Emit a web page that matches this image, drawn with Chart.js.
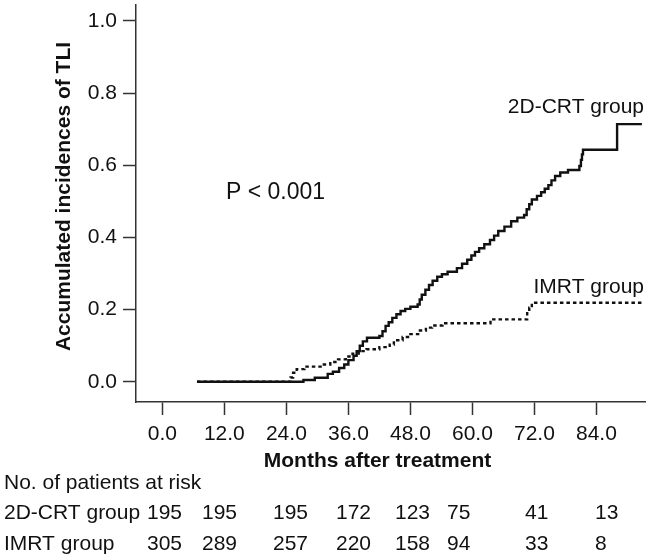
<!DOCTYPE html>
<html>
<head>
<meta charset="utf-8">
<script src="https://cdn.jsdelivr.net/npm/chart.js@4.4.1/dist/chart.umd.min.js"></script>
<style>
  html, body { margin: 0; padding: 0; background: #fff; }
  canvas { display: block; }
</style>
</head>
<body>
<canvas id="tli" width="652" height="557"></canvas>
<script>
// ── Data ─────────────────────────────────────────────────────────────────────

const X_TICKS = [0, 12, 24, 36, 48, 60, 72, 84];
const Y_TICKS = [0, 0.2, 0.4, 0.6, 0.8, 1.0];

// 2D-CRT group: event month / cumulative incidence after it
const CRT_MONTHS = [
    6.7, 27.3, 29.5, 32.0, 33.0, 34.2, 35.2, 36.0, 37.0, 37.6, 38.2, 38.8, 39.6,
    42.0, 42.6, 43.2, 43.8, 44.5, 45.3, 46.1, 47.0, 48.0, 49.4, 49.8, 50.2, 50.9,
    51.6, 52.3, 53.2, 54.1, 55.2, 57.0, 58.0, 59.0, 59.8, 60.5, 61.3, 62.3, 63.4,
    64.2, 65.0, 66.2, 67.5, 68.7, 70.0, 70.5, 71.0, 71.5, 72.5, 73.3, 74.0, 74.7,
    75.3, 76.0, 77.0, 78.5, 80.7, 81.0, 81.2, 81.4, 88.0, 92.8,
];
const CRT_INCIDENCE = [
    0, 0.005, 0.011, 0.022, 0.028, 0.038, 0.048, 0.060, 0.072, 0.085, 0.100, 0.112, 0.122,
    0.127, 0.140, 0.155, 0.165, 0.177, 0.187, 0.196, 0.202, 0.208, 0.214, 0.228, 0.241, 0.255,
    0.268, 0.280, 0.291, 0.298, 0.305, 0.315, 0.327, 0.338, 0.350, 0.360, 0.370, 0.381, 0.393,
    0.405, 0.418, 0.430, 0.445, 0.455, 0.462, 0.478, 0.492, 0.505, 0.515, 0.525, 0.535, 0.545,
    0.558, 0.570, 0.580, 0.587, 0.598, 0.615, 0.630, 0.643, 0.714, 0.714,
];

// IMRT group
const IMRT_MONTHS = [
    6.7, 24.8, 25.3, 26.0, 27.5, 31.0, 32.5, 34.0, 35.5, 36.8, 38.0, 39.5, 42.0,
    44.0, 44.8, 46.5, 48.0, 49.5, 51.0, 52.2, 54.2, 63.5, 70.6, 71.0, 71.5, 92.8,
];
const IMRT_INCIDENCE = [
    0, 0.012, 0.025, 0.035, 0.042, 0.048, 0.055, 0.062, 0.070, 0.078, 0.085, 0.090, 0.096,
    0.103, 0.115, 0.124, 0.132, 0.142, 0.150, 0.156, 0.162, 0.173, 0.190, 0.205, 0.219, 0.219,
];

// patients at risk under the axis
const AT_RISK_CRT = [195, 195, 195, 172, 123, 75, 41, 13];
const AT_RISK_IMRT = [305, 289, 257, 220, 158, 94, 33, 8];

// ── Layout ───────────────────────────────────────────────────────────────────

const FONT = '"Liberation Sans", Arial, sans-serif';
const INK = "#111";
const AT_RISK_COL_X = [147, 202, 273, 336, 395, 447, 525, 595];

const toPoints = (xs, ys) => xs.map((x, i) => ({ x, y: ys[i] }));

const annotations = {
    id: "annotations",
    afterDraw(chart) {
        const ctx = chart.ctx;
        ctx.save();
        ctx.fillStyle = INK;
        ctx.textBaseline = "alphabetic";

        // axis titles
        ctx.font = `bold 21px ${FONT}`;
        ctx.textAlign = "center";
        ctx.fillText("Months after treatment", 377.5, 467);
        ctx.save();
        ctx.translate(70, 196.5);
        ctx.rotate(-Math.PI / 2);
        ctx.fillText("Accumulated incidences of TLI", 0, 0);
        ctx.restore();

        // in-plot labels
        ctx.font = `23px ${FONT}`;
        ctx.textAlign = "left";
        ctx.fillText("P < 0.001", 226, 199);
        ctx.font = `21px ${FONT}`;
        ctx.textAlign = "right";
        ctx.fillText("2D-CRT group", 644, 113);
        ctx.fillText("IMRT group", 644, 293);

        // number at risk table
        ctx.textAlign = "left";
        ctx.fillText("No. of patients at risk", 4, 489);
        ctx.fillText("2D-CRT group", 4, 519);
        ctx.fillText("IMRT group", 4, 550);
        AT_RISK_CRT.forEach((n, i) => ctx.fillText(String(n), AT_RISK_COL_X[i], 519));
        AT_RISK_IMRT.forEach((n, i) => ctx.fillText(String(n), AT_RISK_COL_X[i], 550));
        ctx.restore();
    },
};

const axisGrid = {
    drawOnChartArea: false,
    drawTicks: true,
    tickLength: 13,
    tickWidth: 1.5,
    tickColor: "#333",
};

new Chart(document.getElementById("tli"), {
    type: "line",
    data: {
        datasets: [
            {
                label: "2D-CRT group",
                data: toPoints(CRT_MONTHS, CRT_INCIDENCE),
                borderColor: INK,
                borderWidth: 2.4,
                stepped: "before",
                pointRadius: 0,
                fill: false,
            },
            {
                label: "IMRT group",
                data: toPoints(IMRT_MONTHS, IMRT_INCIDENCE),
                borderColor: INK,
                borderWidth: 2.4,
                borderDash: [3.5, 3],
                stepped: "before",
                pointRadius: 0,
                fill: false,
            },
        ],
    },
    options: {
        responsive: false,
        animation: false,
        devicePixelRatio: 1,
        layout: { padding: { left: 0, top: 5, right: 7, bottom: 0 } },
        plugins: {
            legend: { display: false },
            tooltip: { enabled: false },
            title: { display: false },
        },
        scales: {
            x: {
                type: "linear",
                min: -5.1,
                max: 93.4,
                afterBuildTicks(scale) {
                    scale.ticks = X_TICKS.map((v) => ({ value: v }));
                },
                afterFit(scale) {
                    scale.height = 155;
                    scale.paddingLeft = 0;
                    scale.paddingRight = 0;
                },
                ticks: {
                    color: INK,
                    font: { family: FONT, size: 21 },
                    padding: 7,
                    maxRotation: 0,
                    callback: (v) => Number(v).toFixed(1),
                },
                grid: axisGrid,
                border: { display: true, color: "#333", width: 1.5 },
            },
            y: {
                type: "linear",
                min: -0.056,
                max: 1.044,
                afterBuildTicks(scale) {
                    scale.ticks = Y_TICKS.map((v) => ({ value: v }));
                },
                afterFit(scale) {
                    scale.width = 136;
                    scale.paddingTop = 0;
                    scale.paddingBottom = 0;
                },
                ticks: {
                    color: INK,
                    font: { family: FONT, size: 21 },
                    padding: 6,
                    callback: (v) => Number(v).toFixed(1),
                },
                grid: axisGrid,
                border: { display: true, color: "#333", width: 1.5 },
            },
        },
    },
    plugins: [annotations],
});
</script>
</body>
</html>
